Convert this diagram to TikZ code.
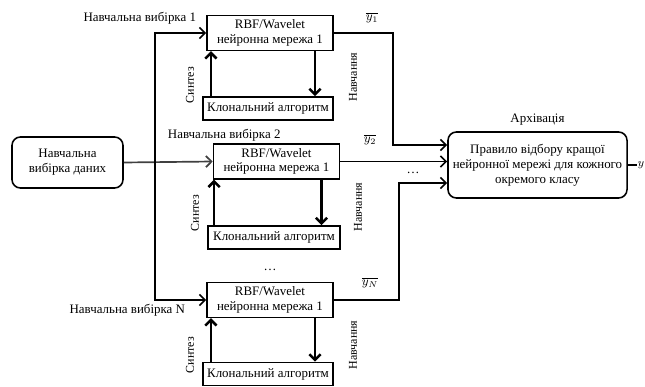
\documentclass[tikz,border=0pt]{standalone}
\usepackage{fontspec}
\setmainfont{Liberation Serif}
\usetikzlibrary{arrows.meta}

\begin{document}
\begin{tikzpicture}[x=0.025cm, y=-0.025cm, font=\fontsize{9.2}{10.5}\selectfont,
  >={Straight Barb[length=4pt,width=8pt]},
  netbox/.style={rectangle, draw, line width=1.1pt, minimum width=3.15cm, minimum height=0.87cm,
                 align=center, inner sep=1pt},
  clonbox/.style={rectangle, draw, line width=1.1pt, minimum width=3.25cm, minimum height=0.58cm,
                  inner sep=1pt},
  roundbox/.style={rectangle, rounded corners=6pt, draw, line width=1.1pt, align=center},
  vlabel/.style={rotate=90, font=\fontsize{8.5}{9}\selectfont},
  link/.style={->, line width=1.2pt},
  fb/.style={->, line width=1.8pt}]
  \useasboundingbox (0,0) rectangle (645,387);
  % вхідні дані
  \node[roundbox, minimum width=2.775cm, minimum height=1.275cm] (data) at (67.5,162.5)
       {Навчальна\\вибірка даних};
  % нейронні мережі
  \node[netbox] (net1) at (270,33) {RBF/Wavelet\\нейронна мережа 1};
  \node[netbox] (net2) at (276.5,161.5) {RBF/Wavelet\\нейронна мережа 1};
  \node[netbox] (netN) at (270,300) {RBF/Wavelet\\нейронна мережа 1};
  \node[clonbox] (clon1) at (268,108.5) {Клональний алгоритм};
  \node[clonbox, minimum width=3.3cm] (clon2) at (274,237.5) {Клональний алгоритм};
  \node[clonbox] (clonN) at (268,374) {Клональний алгоритм};
  % правило відбору
  \node[roundbox, minimum width=4.475cm, minimum height=1.65cm] (rule) at (537.5,165)
       {Правило відбору кращої\\нейронної мережі для кожного\\окремого класу};
  \node[above=1pt] (arch) at (rule.north) {Архівація};
  \coordinate (split) at (155,163);

  \draw[link, black!75] (data.east) -- (net2.west);
  \draw[link] (split) |- (net1.west);
  \draw[link] (split) |- (netN.west);
  \node[anchor=east] (lab1) at (201,18) {Навчальна вибірка 1};
  \node[anchor=west] (lab2) at (163,135) {Навчальна вибірка 2};
  \node[anchor=east] (labN) at (190,310) {Навчальна вибірка N};
  \node (dots1) at (270,270) {\dots};

  % синтез / навчання
  \foreach \n/\dx in {1/0, 2/6, N/0} {
    \draw[fb] ([xshift=-42-\dx*0.4]clon\n.north -| net\n.center) -- ([xshift=-42-\dx*0.4]net\n.south);
    \draw[fb] ([xshift=32]net\n.south) -- ([xshift=32]net\n.south |- clon\n.north);
  }
  \node[vlabel] (syn1) at (190,85) {Синтез};
  \node[vlabel] (syn2) at (195,213) {Синтез};
  \node[vlabel] (synN) at (190,355) {Синтез};
  \node[vlabel] (nav1) at (353,77) {Навчання};
  \node[vlabel] (nav2) at (358,207) {Навчання};
  \node[vlabel] (navN) at (353,345) {Навчання};

  % виходи мереж
  \draw[link] (net1.east) -- ++(59,0) |- ([yshift=0.5cm]rule.west);
  \draw[link] (net2.east) -- (net2.east -| rule.west);
  \draw[link] (netN.east) -- ++(65,0) |- ([yshift=-0.45cm]rule.west);
  \node (y1) at (372,18) {$\overline{y_1}$};
  \node (y2) at (370,140) {$\overline{y_2}$};
  \node (dots2) at (413,173) {\dots};
  \node (yN) at (370,283) {$\overline{y_N}$};

  \draw[line width=1.2pt] (rule.east) -- ++(9,0) coordinate (out);
  \node[anchor=west, inner sep=0.5pt, font=\fontsize{8}{9}\selectfont] (yout) at (out) {$y$};
\end{tikzpicture}
\end{document}
